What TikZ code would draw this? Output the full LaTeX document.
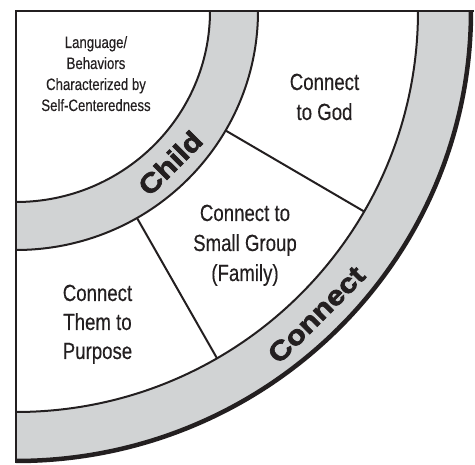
\documentclass[tikz,border=0pt]{standalone}
\usepackage{fontspec}
\setmainfont{Liberation Sans}
\newfontfamily\condfont[FakeStretch=0.8,FakeBold=0.3]{Liberation Sans}
\newfontfamily\blackfont[FakeStretch=1.15,FakeBold=2.6]{Liberation Sans Bold}
\definecolor{bandgray}{HTML}{D1D3D4}
\definecolor{ink}{HTML}{231F20}
\begin{document}
\begin{tikzpicture}[x=1pt,y=1pt,
  ringline/.style={draw=ink,line width=2pt},
  outerline/.style={draw=ink,line width=4.5pt},
  frameline/.style={draw=ink,line width=2.7pt},
  bigtext/.style={inner sep=0pt,anchor=base,text=ink,font=\condfont\fontsize{23.3}{28}\selectfont},
  smalltext/.style={inner sep=0pt,anchor=base,text=ink,font=\condfont\fontsize{16.5}{20}\selectfont},
  bandlabel/.style={inner sep=0pt,text=ink,rotate=45,font=\blackfont\fontsize{27}{30}\selectfont}]
\useasboundingbox (-16,11) rectangle (459,-454);
% gray bands
\fill[bandgray] (194,0) arc[start angle=0,end angle=-90,x radius=194,y radius=191]
  -- (0,-239) arc[start angle=-90,end angle=0,x radius=242,y radius=239] -- cycle;
\fill[bandgray] (402,0) arc[start angle=0,end angle=-90,x radius=402,y radius=401]
  -- (0,-450) arc[start angle=-90,end angle=0,x radius=455,y radius=450] -- cycle;
% ring boundaries
\draw[ringline] (194,0) arc[start angle=0,end angle=-90,x radius=194,y radius=191];
\draw[ringline] (242,0) arc[start angle=0,end angle=-90,x radius=242,y radius=239];
\draw[ringline] (402,0) arc[start angle=0,end angle=-90,x radius=402,y radius=401];
\draw[outerline] (455,0) arc[start angle=0,end angle=-90,x radius=455,y radius=450];
% dividers
\draw[ringline] (-30:242 and 239) -- (-30:402 and 401);
\draw[ringline] (-60:242 and 239) -- (-60:402 and 401);
% frame
\draw[frameline] (457.5,0) -- (0,0) -- (0,-452.5);
% band labels
\node[bandlabel] (child) at (-45:218 and 215) {Child};
\node[bandlabel] (connect) at (-45.5:428.5 and 425.5) {Connect};
% inner texts
\node[smalltext] (lang1) at (80,-37) {Language/};
\node[smalltext] (lang2) at (80,-58) {Behaviors};
\node[smalltext] (lang3) at (80,-79) {Characterized by};
\node[smalltext] (lang4) at (80,-100) {Self-Centeredness};
\node[bigtext] (god1) at (308.5,-79) {Connect};
\node[bigtext] (god2) at (308.5,-109) {to God};
\node[bigtext] (grp1) at (229,-210) {Connect to};
\node[bigtext] (grp2) at (229,-240) {Small Group};
\node[bigtext] (grp3) at (229,-270) {(Family)};
\node[bigtext] (pur1) at (81.5,-290) {Connect};
\node[bigtext] (pur2) at (81.5,-319) {Them to};
\node[bigtext] (pur3) at (81.5,-348) {Purpose};
\end{tikzpicture}
\end{document}
